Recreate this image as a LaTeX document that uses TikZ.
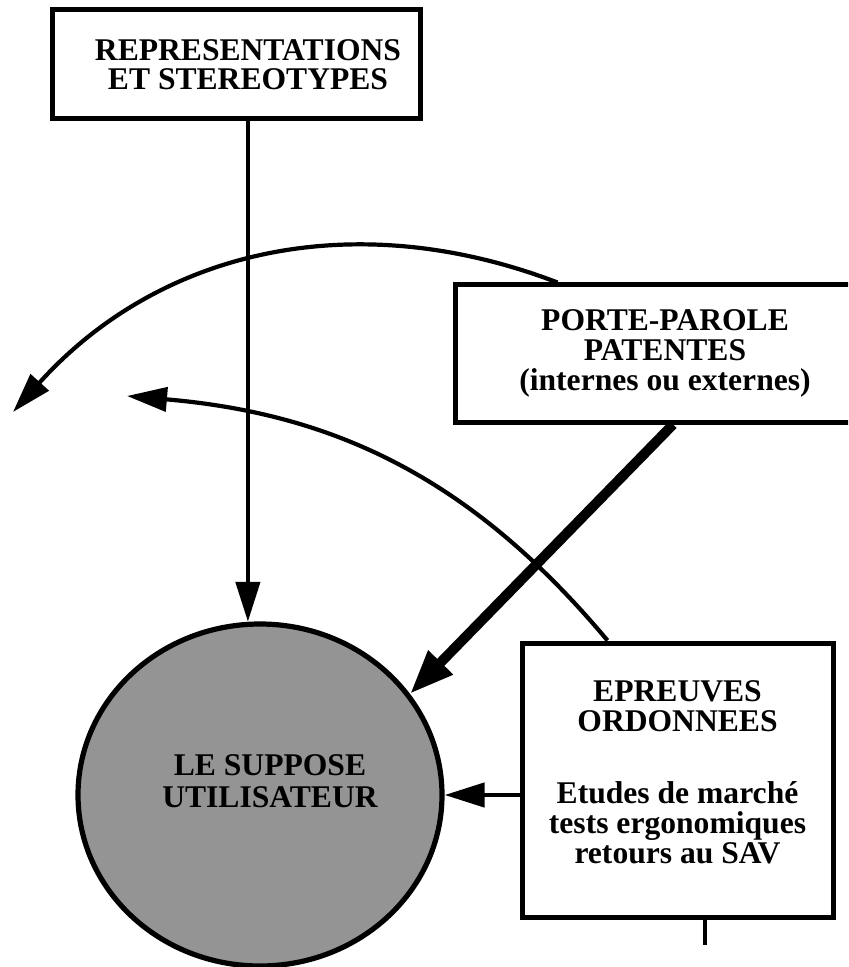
\documentclass[tikz,border=0pt]{standalone}
\usepackage{fontspec}
\setmainfont{Liberation Serif}
\usetikzlibrary{arrows.meta,shapes.geometric,calc}
\begin{document}
\begin{tikzpicture}[x=0.5pt,y=-0.5pt,
  box/.style={draw,line width=2.5pt,rectangle,fill=white,inner sep=0pt,align=center,
    font=\bfseries\fontsize{15.8}{15}\selectfont},
  lbl/.style={align=center,inner sep=0pt,font=\bfseries\fontsize{15.8}{16}\selectfont},
  thinline/.style={line width=2.3pt},
  arcline/.style={line width=2.1pt},
  tipa/.style={-{Triangle[length=20pt,width=12pt]}},
  tipb/.style={-{Triangle[length=22pt,width=16pt]}},
]
\clip (0,0) rectangle (848,967);
\fill[white] (0,0) rectangle (848,967);

% user circle
\node[ellipse,draw,line width=2.6pt,fill=black!42,minimum width=182pt,minimum height=171pt,inner sep=0pt] (user) at (260,795) {};
\node[lbl] (usertxt) at (270,781) {LE SUPPOSE\\UTILISATEUR};

% boxes
\node[box,minimum width=184pt,minimum height=54.5pt,font=\bfseries\fontsize{15.8}{14.8}\selectfont] (rep) at (236,64.5) {\hspace*{12pt}REPRESENTATIONS\\\hspace*{12pt}ET STEREOTYPES};
\node[box,minimum width=210pt,minimum height=68.5pt] (pp) at (665,353.5) {PORTE-PAROLE\\PATENTES\\(internes ou externes)};
\node[box,minimum width=155.5pt,minimum height=137pt] (ep) at (677.5,780) {EPREUVES\\ORDONNEES\\[21pt]Etudes de marché\\tests ergonomiques\\retours au SAV\\[-7pt]\mbox{}};

% free ends
\coordinate (t1) at (13,412);
\coordinate (t2) at (127,396);
\coordinate (stubend) at (705,945);

% connectors
\draw[thinline,tipa] (rep.south -| user.94) -- (user.94);
\draw[arcline,tipa] ($(pp.north west)+(105,0)$) .. controls (355,205) and (160,249) .. (t1);
\draw[arcline,tipa] ($(ep.north west)+(88,0)$) .. controls (474,481) and (338,414) .. (t2);
\draw[line width=5pt,tipb] ($(pp.south)+(8,0)$) -- (user.34);
\draw[thinline,tipa] (ep.west |- user.east) -- (user.east);
\draw[thinline] (ep.south -| stubend) -- (stubend);
\end{tikzpicture}
\end{document}
